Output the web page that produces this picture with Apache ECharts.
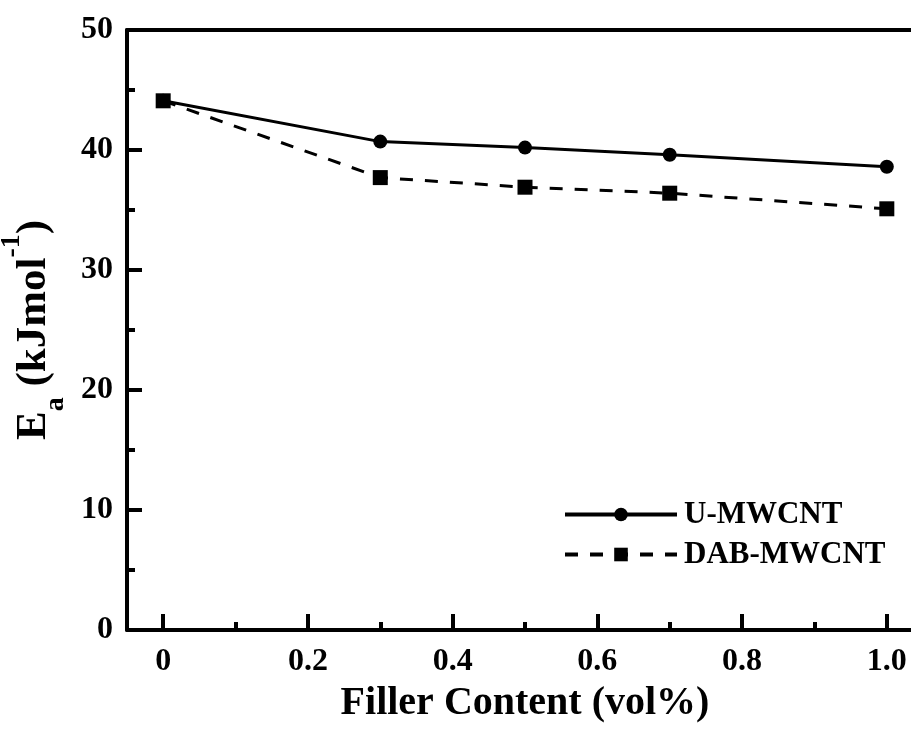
<!DOCTYPE html>
<html>
<head>
<meta charset="utf-8">
<script src="https://cdn.jsdelivr.net/npm/echarts@6/dist/echarts.min.js"></script>
<style>
  html, body { margin: 0; padding: 0; background: #fff; overflow: hidden; width: 911px; height: 733px; }
  #chart { width: 940px; height: 733px; }
</style>
</head>
<body>
<div id="chart"></div>
<script>
// Activation energy vs. filler loading
const fillerContent = [0, 0.3, 0.5, 0.7, 1.0];
const uMwcnt = [44.1, 40.7, 40.2, 39.6, 38.6];
const dabMwcnt = [44.1, 37.7, 36.9, 36.4, 35.1];
const xMajorTicks = [0, 0.2, 0.4, 0.6, 0.8, 1.0];
const xMinorTicks = [0.1, 0.3, 0.5, 0.7, 0.9];
const xTickLabels = ['0', '0.2', '0.4', '0.6', '0.8', '1.0'];
const seriesNames = ['U-MWCNT', 'DAB-MWCNT'];

const FONT = '"Liberation Serif", "Times New Roman", serif';
const INK = '#000';
const DASH = [13, 12];

const pair = (xs, ys) => xs.map((x, i) => [x, ys[i]]);

const chart = echarts.init(document.getElementById('chart'));
chart.setOption({
  animation: false,
  backgroundColor: '#fff',
  grid: { left: 127, right: 17, top: 30, bottom: 103, containLabel: false, outerBoundsMode: 'none' },
  legend: {
    left: 558, top: 494,
    orient: 'vertical',
    itemWidth: 112, itemHeight: 17, itemGap: 9,
    textStyle: { fontFamily: FONT, fontWeight: 'bold', fontSize: 31, color: INK, padding: [0, 0, 0, 2] },
    data: [
      { name: seriesNames[0], lineStyle: { width: 4, type: 'solid', color: INK } },
      { name: seriesNames[1], lineStyle: { width: 4, type: DASH, color: INK } }
    ]
  },
  xAxis: [
    {
      type: 'value', min: -0.05, max: 1.05,
      name: 'Filler Content (vol%)', nameLocation: 'middle', nameGap: 54,
      nameTextStyle: { fontFamily: FONT, fontWeight: 'bold', fontSize: 40, color: INK },
      axisLine: { onZero: false, lineStyle: { color: INK, width: 4 } },
      axisTick: { inside: true, length: 16, lineStyle: { color: INK, width: 4 }, customValues: xMajorTicks },
      axisLabel: {
        customValues: xMajorTicks, margin: 16,
        formatter: v => xTickLabels[xMajorTicks.findIndex(t => Math.abs(t - v) < 1e-9)],
        fontFamily: FONT, fontWeight: 'bold', fontSize: 32, color: INK
      },
      splitLine: { show: false }
    },
    {
      // minor ticks along the bottom edge
      type: 'value', min: -0.05, max: 1.05, position: 'bottom',
      axisLine: { show: false, onZero: false },
      axisTick: { inside: true, length: 8, lineStyle: { color: INK, width: 4 }, customValues: xMinorTicks },
      axisLabel: { show: false },
      splitLine: { show: false }
    },
    {
      // top frame edge
      type: 'value', min: -0.05, max: 1.05, position: 'top',
      axisLine: { onZero: false, lineStyle: { color: INK, width: 4 } },
      axisTick: { show: false }, axisLabel: { show: false }, splitLine: { show: false }
    }
  ],
  yAxis: [
    {
      type: 'value', min: 0, max: 50, interval: 10,
      name: '{m|E}{sub|a}{m| (kJmol}{sup|-1}{m|)}',
      nameLocation: 'middle', nameGap: 47, nameRotate: 90,
      nameTextStyle: {
        fontFamily: FONT, fontWeight: 'bold', fontSize: 43, color: INK,
        rich: {
          m: { fontFamily: FONT, fontWeight: 'bold', fontSize: 43, color: INK, lineHeight: 72, verticalAlign: 'middle' },
          sub: { fontFamily: FONT, fontWeight: 'bold', fontSize: 28, color: INK, lineHeight: 28, verticalAlign: 'bottom' },
          sup: { fontFamily: FONT, fontWeight: 'bold', fontSize: 28, color: INK, lineHeight: 58, verticalAlign: 'top' }
        }
      },
      axisLine: { onZero: false, lineStyle: { color: INK, width: 4 } },
      axisTick: { inside: true, length: 15, lineStyle: { color: INK, width: 4 } },
      minorTick: { show: true, splitNumber: 2, length: 8, lineStyle: { color: INK, width: 4 } },
      axisLabel: { margin: 14, fontFamily: FONT, fontWeight: 'bold', fontSize: 32, color: INK },
      splitLine: { show: false }
    },
    {
      type: 'value', min: 0, max: 50, position: 'right',
      axisLine: { show: true, onZero: false, lineStyle: { color: INK, width: 4 } },
      axisTick: { show: false }, axisLabel: { show: false }, splitLine: { show: false }
    }
  ],
  series: [
    {
      name: seriesNames[0], type: 'line', data: pair(fillerContent, uMwcnt),
      symbol: 'circle', symbolSize: 14,
      itemStyle: { color: INK },
      lineStyle: { color: INK, width: 3, type: 'solid' },
      z: 3
    },
    {
      name: seriesNames[1], type: 'line', data: pair(fillerContent, dabMwcnt),
      symbol: 'rect', symbolSize: 15,
      itemStyle: { color: INK },
      lineStyle: { color: INK, width: 3, type: DASH },
      z: 4
    }
  ]
});
</script>
</body>
</html>
